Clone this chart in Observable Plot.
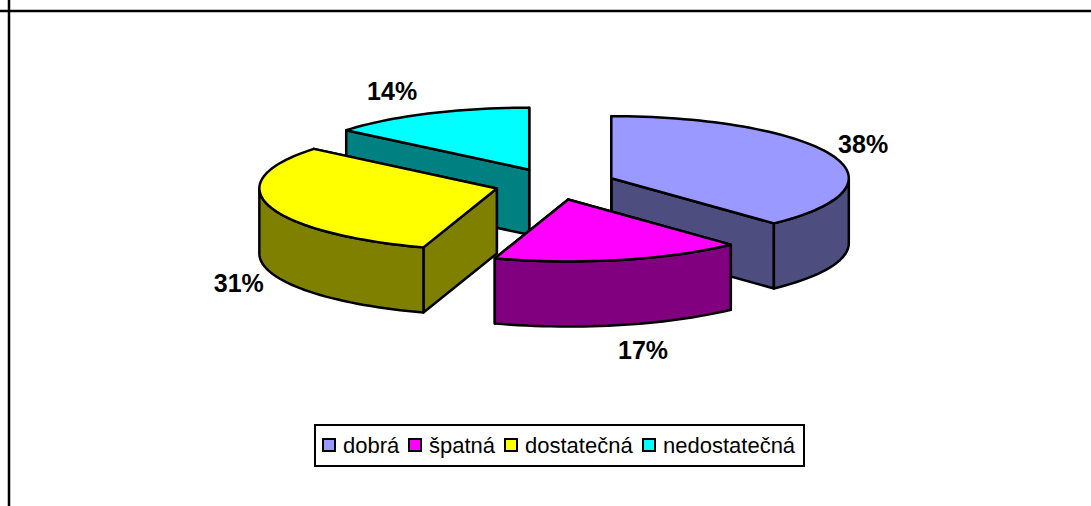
<!DOCTYPE html>
<html>
<head>
<meta charset="utf-8">
<script src="https://cdn.jsdelivr.net/npm/d3@7"></script>
<script src="https://cdn.jsdelivr.net/npm/@observablehq/plot@0.6"></script>
<style>
  html, body { margin: 0; padding: 0; background: #fff; }
  #wrap { position: relative; width: 1091px; height: 506px; overflow: hidden; font-family: "Liberation Sans", Arial, sans-serif; }
  #legend { position: absolute; left: 314px; top: 424px; width: 491px; height: 43px; box-sizing: border-box; border: 2px solid #000; background: #fff; }
  #legend span { position: absolute; top: 6px; font-size: 22px; line-height: 27px; color: #000; white-space: nowrap; }
  #legend i { position: absolute; top: 12px; width: 14px; height: 14px; box-sizing: border-box; border: 2px solid #000; }
</style>
</head>
<body>
<div id="wrap"></div>
<script>
// Data
const categories = ["dobrá", "špatná", "dostatečná", "nedostatečná"];
const shares = [38, 17, 31, 14];
const topColors = ["#9999FF", "#FF00FF", "#FFFF00", "#00FFFF"];
const sideColors = ["#4D4D80", "#800080", "#808000", "#008080"];
const drawOrder = [3, 0, 2, 1];

// Pie geometry in unit-circle coordinates (the x and y scales place it on the page)
const explode = 0.255;
const depth = 1.05;
const rad = d => d * Math.PI / 180;
const total = d3.sum(shares);
const cum = d3.cumsum(shares);
const slices = shares.map((s, i) => {
  const a0 = (cum[i] - s) / total * 360, a1 = cum[i] / total * 360, mid = (a0 + a1) / 2;
  const cx = explode * Math.sin(rad(mid)), cy = explode * Math.cos(rad(mid));
  const pt = (a, dz = 0) => ({x: cx + Math.sin(rad(a)), y: cy + Math.cos(rad(a)) - dz});
  const arc = (from, to, dz = 0) => {
    const n = Math.max(2, Math.ceil(Math.abs(to - from) / 2));
    return d3.range(n + 1).map(k => pt(from + (to - from) * k / n, dz));
  };
  const apex = {x: cx, y: cy}, apexLow = {x: cx, y: cy - depth};
  const face = a => [apex, pt(a), pt(a, depth), apexLow];
  const rimFrom = Math.max(a0, 90), rimTo = Math.min(a1, 270);
  const rim = rimFrom < rimTo ? [...arc(rimFrom, rimTo), ...arc(rimTo, rimFrom, depth)] : null;
  const top = [apex, ...arc(a0, a1)];
  return {i, a0, a1, mid, face, rim, top, pt};
});

const poly = (pts, fill) => Plot.line(pts, {
  x: "x", y: "y", fill, stroke: "#000", strokeWidth: 2.5,
  strokeLinejoin: "round", curve: "linear-closed"
});

const marks = [
  Plot.frame({anchor: "top", stroke: "#000", strokeWidth: 2.5, dy: 10.5}),
  Plot.frame({anchor: "left", stroke: "#000", strokeWidth: 2.5, dx: 8.5})
];
for (const idx of drawOrder) {
  const s = slices[idx];
  marks.push(poly(s.face(s.a1), sideColors[idx]));
  marks.push(poly(s.face(s.a0), sideColors[idx]));
  if (s.rim) marks.push(poly(s.rim, sideColors[idx]));
  marks.push(poly(s.top, topColors[idx]));
}

// Data labels: anchored on each slice's outer edge at its middle angle
const labelOffset = [[31, -10], [23, 91], [-30, 78], [-36, -22]];
slices.forEach((s, i) => {
  marks.push(Plot.text([s.pt(s.mid)], {
    x: "x", y: "y", text: () => shares[i] + "%",
    dx: labelOffset[i][0], dy: labelOffset[i][1],
    fontSize: 25, fontWeight: "bold", fontFamily: "Liberation Sans, Arial, sans-serif",
    fill: "#000", textAnchor: "middle", lineAnchor: "middle"
  }));
});

const chart = Plot.plot({
  width: 1091, height: 506,
  margin: 0,
  x: {domain: [-1, 1], range: [317, 792], axis: null},
  y: {domain: [-1, 1], range: [245.5, 121.5], axis: null},
  style: {background: "#fff"},
  marks
});
const wrap = document.getElementById("wrap");
wrap.appendChild(chart);

// Legend
const legend = document.createElement("div");
legend.id = "legend";
const swatchX = [6, 92, 188, 326];
const textX = [27, 113, 209, 347];
categories.forEach((c, i) => {
  const sw = document.createElement("i");
  sw.style.left = swatchX[i] + "px";
  sw.style.background = topColors[i];
  const t = document.createElement("span");
  t.style.left = textX[i] + "px";
  t.textContent = c;
  legend.append(sw, t);
});
wrap.appendChild(legend);
</script>
</body>
</html>
